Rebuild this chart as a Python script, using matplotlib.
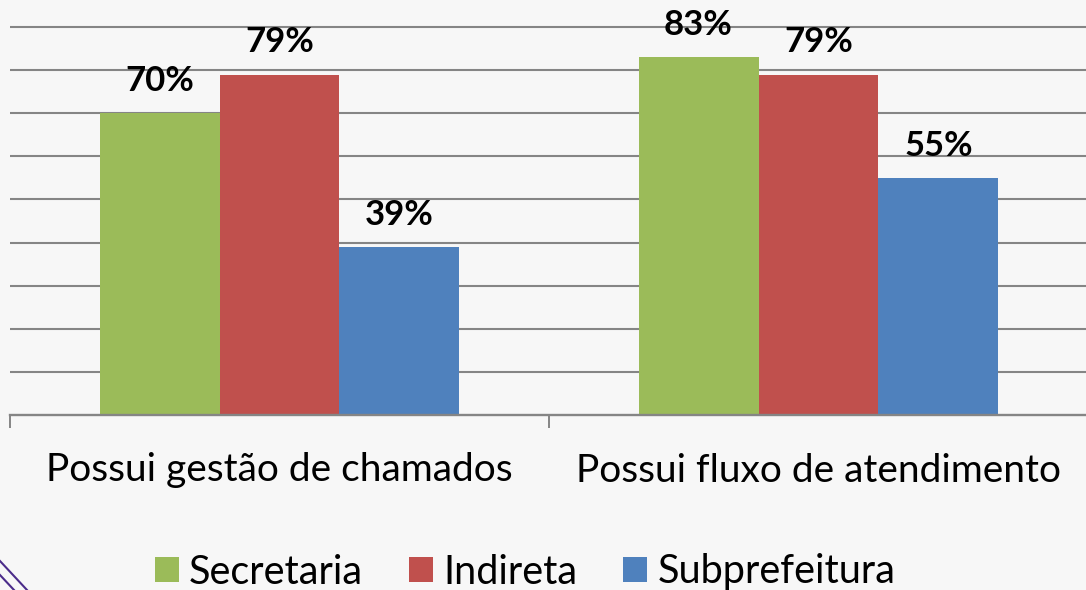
import numpy as np
import matplotlib.pyplot as plt
from matplotlib.patches import Patch
from matplotlib.lines import Line2D

# Données du graphique
categories = ["Possui gestão de chamados", "Possui fluxo de atendimento"]
series = ["Secretaria", "Indireta", "Subprefeitura"]
secretaria = [70, 83]
indireta = [79, 79]
subprefeitura = [39, 55]
couleurs = ["#9BBB59", "#C0504D", "#4F81BD"]

plt.rcParams['font.family'] = ['Lato', 'DejaVu Sans']

fig = plt.figure(figsize=(10.86, 5.90), dpi=100, facecolor="#F7F7F7")
ax = fig.add_axes([10 / 1086, 1 - 415 / 590, 1078 / 1086, 431 / 590])
ax.set_facecolor("none")

x = np.arange(len(categories))
w = 0.2226
valeurs = [secretaria, indireta, subprefeitura]
for i, (vals, c) in enumerate(zip(valeurs, couleurs)):
    pos = x + (i - 1) * w
    ax.bar(pos, vals, width=w, color=c, zorder=3)
    for xp, v in zip(pos, vals):
        ax.annotate(f"{v}%", (xp, v), xytext=(0, 16), textcoords="offset points",
                    ha="center", va="baseline", fontsize=25, fontweight="bold",
                    color="black", zorder=4)

ax.set_xlim(-0.5, 1.5)
ax.set_ylim(0, 100)

# Grille horizontale tous les 10 %
for y in range(10, 100, 10):
    ax.axhline(y, color="#858585", lw=1.5, zorder=1)

for s in ["top", "right", "left"]:
    ax.spines[s].set_visible(False)
ax.spines["bottom"].set_color("#858585")
ax.spines["bottom"].set_linewidth(1.7)
ax.spines["bottom"].set_zorder(5)

ax.set_yticks([])
ax.set_xticks([-0.5, 0.5, 1.5])
ax.set_xticklabels([])
ax.tick_params(axis="x", which="major", direction="out", length=9.5, width=1.4, color="#858585")
ax.set_xticks(x, minor=True)
ax.set_xticklabels(categories, minor=True, fontsize=28)
ax.tick_params(axis="x", which="minor", length=0, pad=27)

handles = [Patch(facecolor=c, edgecolor="none") for c in couleurs]
fig.legend(handles, series, loc="center", bbox_to_anchor=(525 / 1086, 1 - 572 / 590),
           ncol=3, frameon=False, fontsize=28.5, handlelength=0.62, handleheight=0.62,
           handletextpad=0.25, columnspacing=1.15, borderaxespad=0)

# Décor en bas à gauche
for x0, y0, x1, y1 in [(0, 561, 27, 590), (0, 575, 14, 590)]:
    fig.add_artist(Line2D([x0 / 1086, x1 / 1086], [1 - y0 / 590, 1 - y1 / 590],
                          color="#4B2C8A", lw=1.5))

fig.savefig("out.png", dpi=100, facecolor=fig.get_facecolor())
